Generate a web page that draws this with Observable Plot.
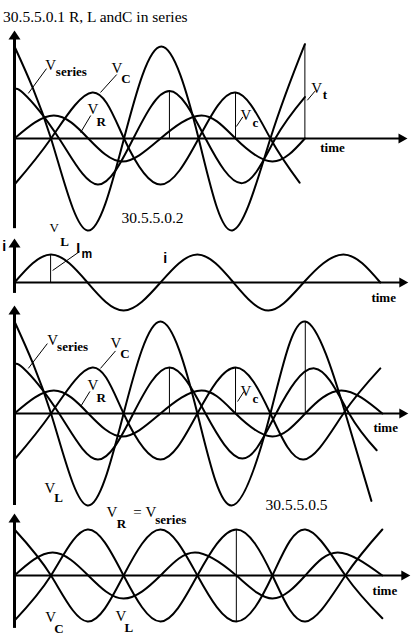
<!DOCTYPE html>
<html>
<head>
<meta charset="utf-8">
<script src="https://cdn.jsdelivr.net/npm/d3@7"></script>
<script src="https://cdn.jsdelivr.net/npm/@observablehq/plot@0.6"></script>
<style>
  html, body { margin: 0; padding: 0; background: white; }
  #page { width: 416px; height: 643px; overflow: hidden; }
  #title { height: 27px; box-sizing: border-box; padding: 9px 0 0 3px; font: 15.5px/15.5px "Liberation Serif", serif; color: black; white-space: nowrap; }
  svg { display: block; }
</style>
</head>
<body>
<div id="page"><div id="title">30.5.5.0.1 R, L andC in series</div></div>
<script>
// x values: phase in degrees (0 = y-axis); y values: amplitude units
// ---- Panel 1 : 30.5.5.0.1
const p1_VL = [[0,2],[90,0],[180,-2],[270,0],[362,2],[454,0],[537,-2],[631,0],[716,2.05]];
const p1_VC = [[0,-1],[90,0],[192,1],[270,0],[360,-1],[454,0],[545,1],[631,0],[703,-0.96]];
const p1_VS = [[0,0.98],[20,1],[110,0],[205,-1],[293,0],[382,1.03],[471,0],[562,-0.97],[643,0],[716,0.9]];
const p1_VR = [[0,0],[97,0.5],[182,0],[266,-0.5],[360,0],[461,0.5],[545,0],[636,-0.5],[716,0]];
const p1_drops = [[382,1.03],[545,1.0],[716,2.05]];
// ---- Panel 2 : current i
const p2_i = [[0,0],[90,1],[180,0],[269,-1],[360,0],[451,1],[540,0],[626,-1],[713,0],[811,1],[902,0]];
const p2_drops = [[89,1]];
// ---- Panel 3 : 30.5.5.0.5
const p3_VL = [[0,2],[90,0],[180,-2],[269,0],[360,2],[451,0],[535,-2],[631,0],[717,2],[816,0],[880,-1.9]];
const p3_VC = [[0,-1],[90,0],[192,1],[269,0],[360,-1],[451,0],[545,1],[631,0],[713,-1],[811,0],[902,0.98]];
const p3_VS = [[0,0.98],[20,1],[110,0],[205,-1],[293,0],[382,1],[471,0],[562,-0.98],[645,0],[740,0.98],[825,0],[893,-0.8]];
const p3_VR = [[0,0],[97,0.5],[182,0],[266,-0.5],[360,0],[461,0.5],[545,0],[636,-0.5],[717,0],[806,0.5],[907,0]];
const p3_drops = [[382,1],[545,1],[717,2]];
// ---- Panel 4 : VR = Vseries
const p4_VL = [[0,1],[90,0],[180,-1],[269,0],[360,1],[451,0],[547,-1],[636,0],[717,1],[816,0],[907,-0.93]];
const p4_VC = [[0,-0.98],[90,0],[180,1],[269,0],[360,-1],[451,0],[547,1],[636,0],[717,-1],[816,0],[907,1]];
const p4_VR = [[0,0],[94,0.5],[182,0],[269,-0.5],[360,0],[445,0.5],[547,0],[636,-0.5],[717,0],[797,0.5],[907,0]];
const p4_span = [[547,-1,1]];

// labels: [x, y, text]
const p1_big = [[76,1.5,"V"],[239,1.43,"V"],[180,0.54,"V"],[732,1.0,"V"],[557,0.41,"V"]];
const p1_sub = [[102,1.35,"series"],[263,1.2,"C"],[202,0.28,"R"],[760,0.85,"t"],[587,0.24,"c"],[754,-0.3,"time"]];
const p1_num = [[264,-1.83,"30.5.5.0.2"]];
const p1_leaders = [[34,0.98,79,1.52],[212,1.0,252,1.39],[163,0.13,188,0.5],[722,0.83,741,1.03],[547,0.26,563,0.47]];

const p2_big = [[86,1.79,"V"]];
const p2_sub = [[113,1.32,"L"],[880,-0.71,"time"]];
const p2_sans = [[-30,1.14,"i"],[152,1.04,"I"],[367,0.71,"i"]];
const p2_sansSub = [[165,0.86,"m"]];
const p2_leaders = [[94,0.43,160,1.1]];

const p3_big = [[81,1.5,"V"],[237,1.43,"V"],[180,0.52,"V"],[74,-1.72,"V"],[557,0.39,"V"]];
const p3_sub = [[105,1.35,"series"],[261,1.2,"C"],[202,0.26,"R"],[98,-1.93,"L"],[587,0.22,"c"],[885,-0.41,"time"]];
const p3_num = [[619,-2.09,"30.5.5.0.5"]];
const p3_leaders = [[34,0.98,81,1.52],[212,0.98,249,1.36],[163,0.15,186,0.48],[550,0.26,566,0.48]];

const p4_big = [[227,1.28,"V"],[293,1.28,"="],[323,1.28,"V"],[76,-1.02,"V"],[249,-0.98,"V"]];
const p4_sub = [[252,1.04,"R"],[347,1.11,"series"],[98,-1.24,"C"],[271,-1.22,"L"],[883,-0.43,"time"]];

const SERIF = "Liberation Serif, Times New Roman, serif";
const SANS = "Liberation Sans, Arial, sans-serif";

const arrowUp = {draw(c){ c.moveTo(0,0); c.lineTo(6,9); c.lineTo(-6,9); c.closePath(); }};
const arrowRight = {draw(c){ c.moveTo(0,0); c.lineTo(-9,5); c.lineTo(-9,-5); c.closePath(); }};

const X = d => d[0], Y = d => d[1];

function axes(xEnd, yTop, yBottom, k) {
  return [
    Plot.ruleY([0], {x1: 0, x2: xEnd - 6 * 360 / 146, stroke: "black", strokeWidth: 2}),
    Plot.dot([[xEnd, 0]], {x: X, y: Y, symbol: arrowRight, fill: "black", stroke: null, r: 3}),
    Plot.ruleX([0], {y1: yBottom, y2: yTop - 6 / k, stroke: "black", strokeWidth: 3}),
    Plot.dot([[0, yTop]], {x: X, y: Y, symbol: arrowUp, fill: "black", stroke: null, r: 3})
  ];
}
function curves(list) {
  return list.map(data => Plot.line(data, {x: X, y: Y, curve: "natural", stroke: "black", strokeWidth: 2}));
}
function texts(data, family, size, weight) {
  return Plot.text(data, {x: X, y: Y, text: d => d[2], textAnchor: "start", lineAnchor: "bottom",
    fontFamily: family, fontSize: size, fontWeight: weight, fill: "black"});
}
function leaders(data) {
  return Plot.link(data, {x1: d => d[0], y1: d => d[1], x2: d => d[2], y2: d => d[3], stroke: "black", strokeWidth: 1});
}
function drops(data) {
  return Plot.ruleX(data, {x: X, y1: 0, y2: Y, stroke: "black", strokeWidth: 1});
}
function panel(height, zero, k, marks) {
  return Plot.plot({
    width: 416, height, margin: 0,
    x: {domain: [0, 360], range: [14, 160], axis: null},
    y: {domain: [0, 1], range: [zero, zero - k], axis: null},
    style: {background: "transparent", overflow: "visible"},
    marks
  });
}

const page = document.getElementById("page");

page.append(panel(209, 111, 46, [
  ...axes(969, 2.35, -1.96, 46),
  ...curves([p1_VL, p1_VC, p1_VS, p1_VR]),
  drops(p1_drops),
  leaders(p1_leaders),
  texts(p1_big, SERIF, 15, "normal"),
  texts(p1_sub, SERIF, 13, "bold"),
  texts(p1_num, SERIF, 15.5, "normal")
]));

page.append(panel(66, 46, 28, [
  ...axes(971, 1.57, -0.39, 28),
  ...curves([p2_i]),
  drops(p2_drops),
  leaders(p2_leaders),
  texts(p2_big, SERIF, 13, "normal"),
  texts(p2_sub, SERIF, 13, "bold"),
  texts(p2_sans, SANS, 14, "bold"),
  texts(p2_sansSub, SANS, 12, "bold")
]));

page.append(panel(206, 111, 46, [
  ...axes(971, 2.35, -2.0, 46),
  ...curves([p3_VL, p3_VC, p3_VS, p3_VR]),
  drops(p3_drops),
  leaders(p3_leaders),
  texts(p3_big, SERIF, 15, "normal"),
  texts(p3_sub, SERIF, 13, "bold"),
  texts(p3_num, SERIF, 15.5, "normal")
]));

page.append(panel(135, 67, 46, [
  ...axes(976, 1.35, -1.15, 46),
  ...curves([p4_VL, p4_VC, p4_VR]),
  Plot.ruleX(p4_span, {x: X, y1: d => d[1], y2: d => d[2], stroke: "black", strokeWidth: 1}),
  texts(p4_big, SERIF, 15, "normal"),
  texts(p4_sub, SERIF, 13, "bold")
]));
</script>
</body>
</html>
